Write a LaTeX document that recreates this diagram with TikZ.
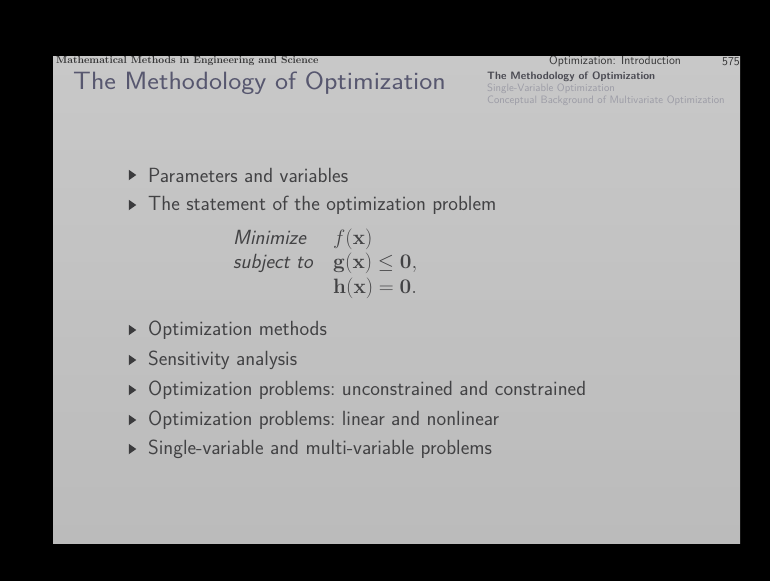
\documentclass[tikz,border=0pt]{standalone}
\usepackage{amsmath,amssymb}
\usetikzlibrary{shapes.geometric}
\definecolor{slidetop}{HTML}{C8C8C8}
\definecolor{slidebot}{HTML}{BBBBBB}
\definecolor{bodytext}{HTML}{424244}
\definecolor{titletext}{HTML}{57576F}
\definecolor{navon}{HTML}{4A4A52}
\definecolor{navoff}{HTML}{9C9CA6}
\tikzset{
  item/.style={anchor=west, inner sep=0pt, text=bodytext,
    font=\sffamily\fontsize{20.5}{24}\selectfont},
  bullet/.style={isosceles triangle, isosceles triangle apex angle=70,
    fill=bodytext!90!black, draw=none, inner sep=0pt,
    minimum width=6.5pt, minimum height=7.5pt},
  headtext/.style={inner sep=0pt, text=bodytext!80!black,
    font=\rmfamily\bfseries\fontsize{10.2}{11}\selectfont},
  navtext/.style={anchor=west, inner sep=0pt,
    font=\sffamily\fontsize{10.7}{12}\selectfont},
  mathline/.style={anchor=base west, inner sep=0pt, text=bodytext,
    font=\sffamily\fontsize{20.5}{24}\selectfont}
}
\begin{document}
\begin{tikzpicture}[x=1pt,y=-1pt]
  \useasboundingbox (0,0) rectangle (770,581);
  \fill[black] (0,0) rectangle (770,581);
  % the projected slide
  \shade[top color=slidetop, bottom color=slidebot]
    (53,56) rectangle (740,543);
  \begin{scope}
    \clip (53,56) rectangle (740,543);
    % headline
    \node[headtext, anchor=west] (hl) at (56,60.5)
      {Mathematical Methods in Engineering and Science};
    \node[headtext, anchor=west, font=\sffamily\fontsize{12}{13}\selectfont]
      (hc) at (549,61.5) {Optimization: Introduction};
    \node[headtext, anchor=west, font=\sffamily\fontsize{12}{13}\selectfont]
      (hp) at (722,61.5) {575};
    % section navigation
    \node[navtext, text=navon] (n1) at (487,77)
      {\bfseries The Methodology of Optimization};
    \node[navtext, text=navoff] (n2) at (487,89)
      {Single-Variable Optimization};
    \node[navtext, text=navoff] (n3) at (487,101)
      {Conceptual Background of Multivariate Optimization};
  \end{scope}
  % frame title
  \node[anchor=base west, inner sep=0pt, text=titletext, xscale=1.11,
    font=\sffamily\fontsize{25}{29}\selectfont] (title) at (73,89)
    {The Methodology of Optimization};
  % items
  \node[bullet] (b1) at (131.5,175) {};
  \node[item] (i1) at (148,175) {Parameters and variables};
  \node[bullet] (b2) at (131.5,205) {};
  \node[item] (i2) at (148,205) {The statement of the optimization problem};
  % problem statement
  \node[mathline] (m1) at (233,244) {\itshape Minimize};
  \node[mathline] (m1r) at (333,244) {$f(\mathbf{x})$};
  \node[mathline] (m2) at (233,268) {\itshape subject to};
  \node[mathline] (m2r) at (333,268) {$\mathbf{g}(\mathbf{x})\le\mathbf{0},$};
  \node[mathline] (m3r) at (333,293) {$\mathbf{h}(\mathbf{x})=\mathbf{0}.$};
  \node[bullet] (b3) at (131.5,330) {};
  \node[item] (i3) at (148,330) {Optimization methods};
  \node[bullet] (b4) at (131.5,360) {};
  \node[item] (i4) at (148,360) {Sensitivity analysis};
  \node[bullet] (b5) at (131.5,390) {};
  \node[item] (i5) at (148,390) {Optimization problems:\ unconstrained and constrained};
  \node[bullet] (b6) at (131.5,420) {};
  \node[item] (i6) at (148,420) {Optimization problems:\ linear and nonlinear};
  \node[bullet] (b7) at (131.5,449) {};
  \node[item] (i7) at (148,449) {Single-variable and multi-variable problems};
\end{tikzpicture}
\end{document}
